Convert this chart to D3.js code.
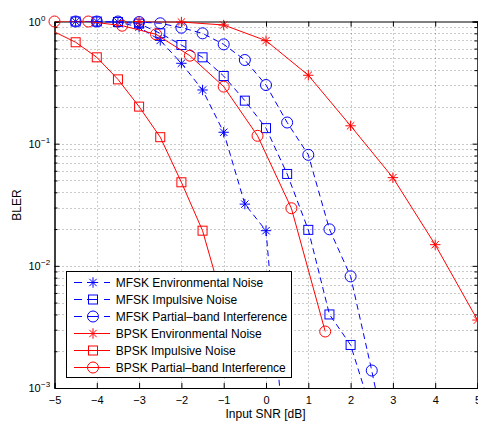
<!DOCTYPE html>
<html>
<head>
<meta charset="utf-8">
<script src="https://cdn.jsdelivr.net/npm/d3@7"></script>
<style>
  html, body { margin: 0; padding: 0; background: #fff; }
  svg { display: block; }
  text { font-family: "Liberation Sans", Arial, Helvetica, sans-serif; fill: #000; }
</style>
</head>
<body>
<svg id="chart" width="478" height="422"></svg>
<script>
// BLER versus input SNR for MFSK and BPSK under three interference types
const snrMfskEnv  = [-4.5, -4, -3.5, -3, -2.5, -2, -1.5, -1, -0.5, 0, 0.5];
const blerMfskEnv = [1.0, 1.0, 0.99, 0.9, 0.70, 0.455, 0.275, 0.124, 0.032, 0.0194, 0.0002];

const snrMfskImp  = [-4.5, -4, -3.5, -3, -2.5, -2, -1.5, -1, -0.5, 0, 0.5, 1, 1.5, 2, 2.5];
const blerMfskImp = [1.0, 1.0, 0.99, 0.96, 0.80, 0.642, 0.509, 0.358, 0.225, 0.134, 0.0565, 0.0197, 0.0040, 0.00225, 0.00063];

const snrMfskPbi  = [-4.5, -4, -3.5, -3, -2.5, -2, -1.5, -1, -0.5, 0, 0.5, 1, 1.5, 2, 2.5, 3];
const blerMfskPbi = [1.0, 1.0, 1.0, 0.99, 0.967, 0.89, 0.80, 0.65, 0.484, 0.302, 0.149, 0.081, 0.0199, 0.0082, 0.00139, 0.0002];

const snrBpskEnv  = [-3, -2, -1, 0, 1, 2, 3, 4, 5];
const blerBpskEnv = [1.0, 0.99, 0.936, 0.697, 0.363, 0.14, 0.0527, 0.0149, 0.0036];

const snrBpskImp  = [-5.5, -4.5, -4, -3.5, -3, -2.5, -2, -1.5, -1];
const blerBpskImp = [1.0, 0.676, 0.509, 0.336, 0.201, 0.113, 0.0483, 0.0194, 0.0048];

const snrBpskPbi  = [-5, -4.2, -3.4, -2.6, -1.8, -1.0, -0.2, 0.6, 1.4];
const blerBpskPbi = [1.0, 1.0, 0.924, 0.786, 0.525, 0.293, 0.116, 0.0296, 0.0029];

const seriesNames = [
  "MFSK Environmental Noise",
  "MFSK Impulsive Noise",
  "MFSK Partial\u2013band Interference",
  "BPSK Environmental Noise",
  "BPSK Impulsive Noise",
  "BPSK Partial\u2013band Interference"
];

const xTicks = [-5, -4, -3, -2, -1, 0, 1, 2, 3, 4, 5];
const yTickExponents = [0, -1, -2, -3];
const xLabel = "Input SNR [dB]";
const yLabel = "BLER";

// ---- build series ----
const series = [
  { name: seriesNames[0], x: snrMfskEnv, y: blerMfskEnv, color: "#0000ff", dashed: true,  marker: "star" },
  { name: seriesNames[1], x: snrMfskImp, y: blerMfskImp, color: "#0000ff", dashed: true,  marker: "square" },
  { name: seriesNames[2], x: snrMfskPbi, y: blerMfskPbi, color: "#0000ff", dashed: true,  marker: "circle" },
  { name: seriesNames[3], x: snrBpskEnv, y: blerBpskEnv, color: "#ff0000", dashed: false, marker: "star" },
  { name: seriesNames[4], x: snrBpskImp, y: blerBpskImp, color: "#ff0000", dashed: false, marker: "square" },
  { name: seriesNames[5], x: snrBpskPbi, y: blerBpskPbi, color: "#ff0000", dashed: false, marker: "circle" }
];

const svg = d3.select("#chart");
const plot = { left: 54.5, right: 477.5, top: 21.5, bottom: 388 };

const x = d3.scaleLinear().domain([-5, 5]).range([plot.left, plot.right]);
const y = d3.scaleLog().domain([1e-3, 1]).range([plot.bottom, plot.top]);

svg.append("defs").append("clipPath").attr("id", "plotClip")
  .append("rect")
  .attr("x", plot.left).attr("y", plot.top)
  .attr("width", plot.right - plot.left).attr("height", plot.bottom - plot.top);

// ---- dotted grid ----
const grid = svg.append("g").attr("stroke", "#000").attr("stroke-opacity", 0.42)
  .attr("stroke-width", 1).attr("stroke-dasharray", "1,3").attr("fill", "none");

xTicks.slice(1, -1).forEach(t => {
  const px = Math.round(x(t)) + 0.5;
  grid.append("line").attr("x1", px).attr("x2", px).attr("y1", plot.top).attr("y2", plot.bottom);
});
const minorY = [];
for (let e = -3; e < 0; e++) for (let m = 1; m <= 9; m++) minorY.push(m * Math.pow(10, e));
minorY.filter(v => v > 1e-3).forEach(v => {
  const py = Math.round(y(v)) + 0.5;
  grid.append("line").attr("x1", plot.left).attr("x2", plot.right).attr("y1", py).attr("y2", py);
});

// ---- axes (ticks inward, box on all sides) ----
const majorLen = 5, minorLen = 3;
const minorOnly = minorY.filter(v => v > 1e-3 && Math.abs(Math.log10(v) % 1) > 1e-9);
const majorY = yTickExponents.map(e => Math.pow(10, e));

const axB = svg.append("g").attr("transform", `translate(0,${plot.bottom})`)
  .call(d3.axisBottom(x).tickValues(xTicks).tickSize(-majorLen).tickPadding(8)
    .tickFormat(d => d < 0 ? "\u2212" + Math.abs(d) : String(d)));
const axT = svg.append("g").attr("transform", `translate(0,${plot.top})`)
  .call(d3.axisTop(x).tickValues(xTicks).tickSize(-majorLen).tickFormat(""));
const axL = svg.append("g").attr("transform", `translate(${plot.left},0)`)
  .call(d3.axisLeft(y).tickValues(minorOnly).tickSize(-minorLen).tickFormat(""));
const axL2 = svg.append("g").attr("transform", `translate(${plot.left},0)`)
  .call(d3.axisLeft(y).tickValues(majorY).tickSize(-majorLen).tickFormat(""));
const axR = svg.append("g").attr("transform", `translate(${plot.right},0)`)
  .call(d3.axisRight(y).tickValues(minorOnly).tickSize(-minorLen).tickFormat(""));
const axR2 = svg.append("g").attr("transform", `translate(${plot.right},0)`)
  .call(d3.axisRight(y).tickValues(majorY).tickSize(-majorLen).tickFormat(""));

[axB, axT, axL, axL2, axR, axR2].forEach(g => {
  g.select(".domain").attr("stroke", "#000").attr("stroke-width", 1);
  g.selectAll(".tick line").attr("stroke", "#000");
});
axB.selectAll(".tick text").attr("font-size", 11).attr("fill", "#000")
  .attr("font-family", "'Liberation Sans', Arial, sans-serif");

// y tick labels as 10 with a superscript exponent
yTickExponents.forEach(e => {
  const py = y(Math.pow(10, e));
  svg.append("text").attr("x", 40.7).attr("y", py + 4).attr("text-anchor", "end")
    .attr("font-size", 11).text("10");
  svg.append("text").attr("x", 41).attr("y", py - 1).attr("text-anchor", "start")
    .attr("font-size", 8).text(e === 0 ? "0" : "\u2212" + Math.abs(e));
});

// axis titles
svg.append("text").attr("x", 265.5).attr("y", 418).attr("text-anchor", "middle")
  .attr("font-size", 12).text(xLabel);
svg.append("text").attr("transform", `translate(20.5,205) rotate(-90)`)
  .attr("text-anchor", "middle").attr("font-size", 12).text(yLabel);

// ---- markers ----
function drawMarker(g, kind, cx, cy, color) {
  if (kind === "circle") {
    g.append("circle").attr("cx", cx).attr("cy", cy).attr("r", 5.5)
      .attr("fill", "none").attr("stroke", color).attr("stroke-width", 1);
  } else if (kind === "square") {
    g.append("rect").attr("x", cx - 4.5).attr("y", cy - 4.5).attr("width", 9).attr("height", 9)
      .attr("fill", "none").attr("stroke", color).attr("stroke-width", 1);
  } else {
    const r = 5.2, d = 3.7;
    const p = `M${cx - r},${cy}H${cx + r}M${cx},${cy - r}V${cy + r}` +
              `M${cx - d},${cy - d}L${cx + d},${cy + d}M${cx - d},${cy + d}L${cx + d},${cy - d}`;
    g.append("path").attr("d", p).attr("fill", "none").attr("stroke", color).attr("stroke-width", 1);
  }
}

const line = d3.line().x(d => x(d[0])).y(d => y(d[1]));

series.forEach(s => {
  const pts = s.x.map((v, i) => [v, s.y[i]]);
  const g = svg.append("g");
  g.append("path").attr("d", line(pts)).attr("clip-path", "url(#plotClip)")
    .attr("fill", "none").attr("stroke", s.color).attr("stroke-width", 1)
    .attr("stroke-dasharray", s.dashed ? "6,4" : null);
  pts.filter(p => p[0] >= -5 && p[0] <= 5 && p[1] >= 1e-3 && p[1] <= 1)
    .forEach(p => drawMarker(g, s.marker, x(p[0]), y(p[1]), s.color));
});

// ---- legend ----
const lg = svg.append("g");
lg.append("rect").attr("x", 66.5).attr("y", 271.5).attr("width", 225).attr("height", 106)
  .attr("fill", "#fff").attr("stroke", "#000").attr("stroke-width", 1);
series.forEach((s, i) => {
  const cy = 282.5 + i * 17;
  lg.append("line").attr("x1", 74).attr("x2", 110).attr("y1", cy).attr("y2", cy)
    .attr("stroke", s.color).attr("stroke-width", 1)
    .attr("stroke-dasharray", s.dashed ? "8,5,11,6,6" : null);
  drawMarker(lg, s.marker, 93, cy, s.color);
  lg.append("text").attr("x", 115.7).attr("y", cy + 4.3).attr("font-size", 12).text(s.name);
});
</script>
</body>
</html>
